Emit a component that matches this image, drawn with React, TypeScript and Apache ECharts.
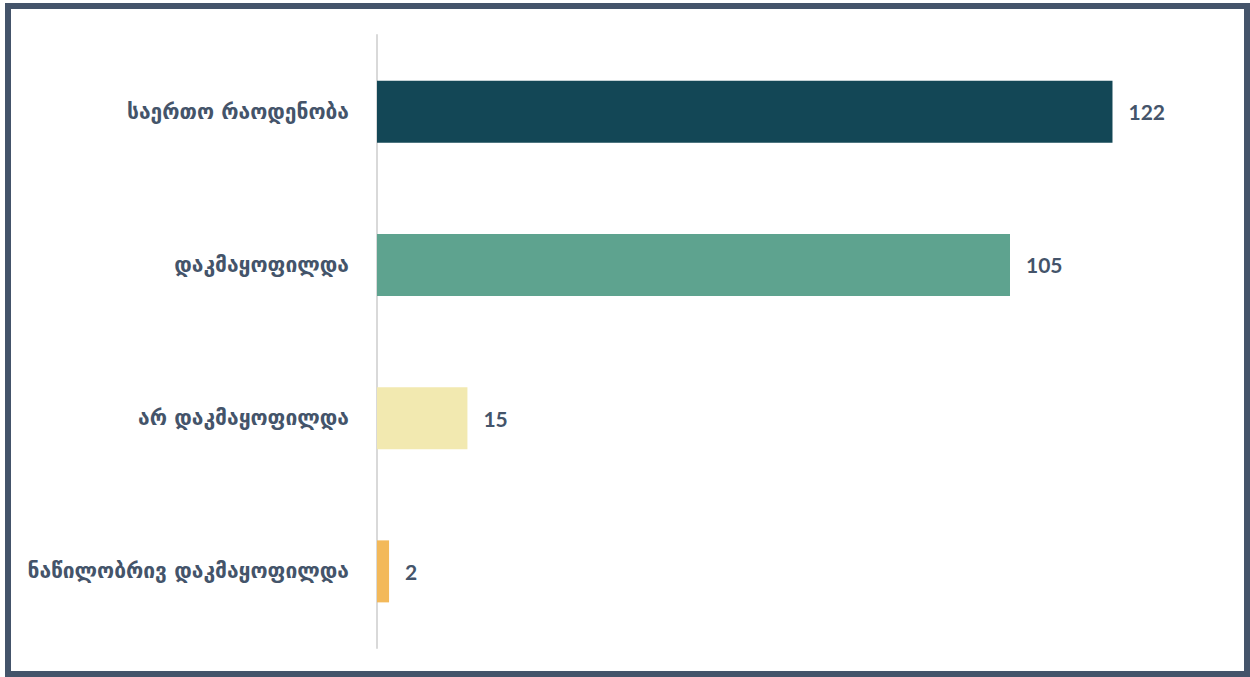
import React, { useEffect, useRef } from "react";
import * as echarts from "echarts";

const categories = [
  "საერთო რაოდენობა",
  "დაკმაყოფილდა",
  "არ დაკმაყოფილდა",
  "ნაწილობრივ დაკმაყოფილდა",
];
const values = [122, 105, 15, 2];
const colors = ["#134756", "#5ea38f", "#f2e9b0", "#f3b95a"];

export default function App() {
  const ref = useRef<HTMLDivElement>(null);
  useEffect(() => {
    if (!ref.current) return;
    const chart = echarts.init(ref.current, undefined, { renderer: "svg" });
    chart.setOption({
      animation: false,
      grid: { left: 377, top: 35, right: 29, bottom: 29, containLabel: false },
      xAxis: {
        type: "value",
        min: 0,
        max: 140,
        show: false,
      },
      yAxis: {
        type: "category",
        data: categories,
        inverse: true,
        axisLine: { show: true, lineStyle: { color: "#d9d9d9", width: 2 } },
        axisTick: { show: false },
        axisLabel: {
          color: "#44546A",
          fontFamily: "DejaVu Sans",
          fontWeight: "bold",
          fontSize: 21,
          margin: 28,
        },
      },
      series: [
        {
          type: "bar",
          barWidth: 62,
          data: values.map((v, i) => ({ value: v, itemStyle: { color: colors[i] } })),
          label: {
            show: true,
            position: "right",
            distance: 16,
            color: "#44546A",
            fontFamily: "Lato",
            fontWeight: "bold",
            fontSize: 21,
          },
        },
      ],
    });
    return () => chart.dispose();
  }, []);
  return (
    <div style={{ position: "fixed", left: 0, top: 0, width: 1250, height: 677, background: "#fff" }}>
      <div
        style={{
          position: "absolute",
          left: 5,
          top: 3,
          width: 1245,
          height: 674,
          border: "6px solid #44546A",
          boxSizing: "border-box",
        }}
      />
      <div ref={ref} style={{ position: "absolute", left: 0, top: 0, width: 1250, height: 677 }} />
    </div>
  );
}
